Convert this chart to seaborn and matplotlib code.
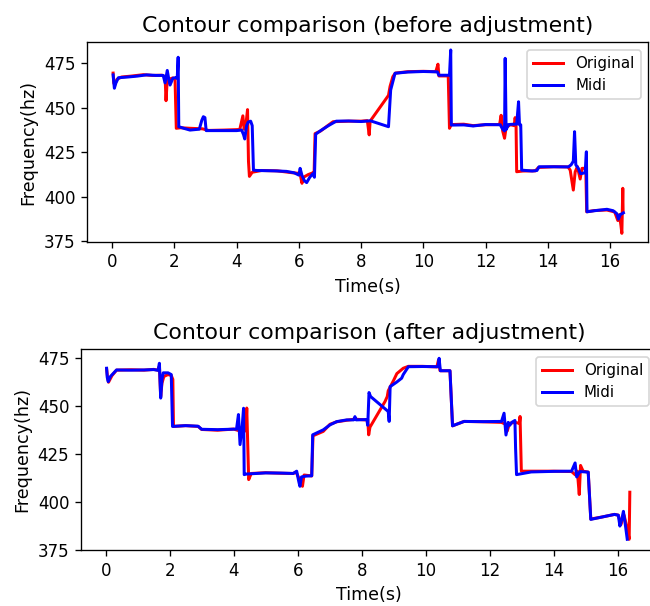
import numpy as np
import pandas as pd
import matplotlib
matplotlib.use("Agg")
import matplotlib.pyplot as plt
import seaborn as sns

# ---- data: top panel (before adjustment) ----
top_orig_t = [0.03, 0.05, 0.08, 0.15, 0.3, 0.6, 1.0, 1.3, 1.6, 1.70, 1.73, 1.76, 1.82, 1.95, 2.02, 2.06, 2.2, 2.5, 2.9, 3.1,
              3.6, 4.1, 4.2, 4.24, 4.3, 4.35, 4.38, 4.41, 4.5, 4.8, 5.3, 5.8, 6.0, 6.05, 6.1, 6.15, 6.3, 6.45, 6.49, 6.52,
              6.7, 6.95, 7.1, 7.6, 8.0, 8.2, 8.26, 8.29, 8.88, 8.93, 9.02, 9.1, 9.5, 10.0, 10.4, 10.47, 10.5, 10.8, 10.84, 10.9,
              11.3, 11.6, 12.0, 12.45, 12.5, 12.55, 12.61, 12.66, 12.8, 12.92, 12.95, 12.98, 13.0, 13.2, 13.6, 13.7, 14.2, 14.65, 14.72, 14.82,
              14.88, 14.95, 15.04, 15.1, 15.22, 15.25, 15.5, 15.9, 16.15, 16.25, 16.3, 16.35, 16.38, 16.41, 16.42]
top_orig_f = [469.5, 464, 462.8, 466, 467.3, 467.8, 468.6, 468.2, 468.3, 467.5, 454, 463, 466, 466.8, 466, 438.5, 438.8, 438.5, 438.2, 437.3,
              437.5, 437.8, 445.5, 438, 441, 449, 420, 411.5, 413.8, 414.8, 414.6, 413.5, 413.2, 412, 407.6, 411, 412.5, 413.5, 414, 435.5,
              437, 440.3, 442.2, 442.5, 442.5, 442.8, 434.8, 442.5, 457, 462, 467.5, 469.5, 470.3, 470.5, 470.3, 474.5, 467.9, 467.9, 438.5, 440.6,
              440.8, 440, 440.5, 440.6, 445.8, 437, 432.9, 439, 440.5, 440, 444.5, 440, 414.1, 414.5, 414.6, 416.5, 416.9, 416.8, 415, 403.8,
              414, 417, 410, 416, 416, 391.6, 392.3, 392.6, 391.5, 386.7, 390, 384, 379.5, 404.8, 392]

top_midi_t = [0.03, 0.07, 0.12, 0.2, 0.5, 0.8, 1.1, 1.4, 1.64, 1.7, 1.77, 1.82, 1.86, 1.95, 2.05, 2.09, 2.12, 2.14, 2.3, 2.5,
              2.8, 2.88, 2.93, 2.98, 3.02, 3.5, 4.0, 4.16, 4.22, 4.26, 4.32, 4.37, 4.45, 4.5, 4.54, 4.65, 5.2, 5.6, 5.85, 6.0,
              6.04, 6.1, 6.18, 6.25, 6.35, 6.45, 6.5, 6.54, 6.7, 6.95, 7.2, 7.6, 8.0, 8.3, 8.88, 8.95, 9.09, 9.5, 10.0, 10.45,
              10.5, 10.84, 10.88, 10.9, 11.3, 11.6, 12.0, 12.47, 12.55, 12.61, 12.63, 12.66, 12.74, 12.9, 13.0, 13.06, 13.09, 13.13, 13.16, 13.5,
              13.65, 13.72, 14.2, 14.66, 14.75, 14.82, 14.86, 14.9, 14.98, 15.05, 15.2, 15.24, 15.26, 15.5, 15.9, 16.1, 16.22, 16.27, 16.33, 16.43]
top_midi_f = [468.5, 461, 464, 466.9, 467.3, 467.8, 468.5, 468.2, 468.2, 464, 471, 466, 462.8, 466.6, 467, 466.5, 478.4, 439.4, 438.5, 437.5,
              438, 443, 445, 444.5, 437.2, 437.2, 437.2, 437.5, 435, 432.5, 440, 442, 442.5, 440, 415, 414.8, 414.6, 414.3, 413.5, 412.2,
              416, 412, 409, 408, 411, 413, 411, 435.2, 437.2, 440, 442.5, 442.6, 442.3, 442.7, 439.4, 460, 469.4, 470.1, 470.4, 470.2,
              468.3, 468.3, 482.5, 440.3, 440.4, 439.8, 440.6, 440.5, 438, 437, 477.8, 437.8, 440.6, 440.8, 440.8, 453.4, 440.5, 440.5, 415, 414.5,
              414.8, 416.9, 416.9, 416.8, 418, 420, 436.6, 418, 416, 413, 413.5, 425.3, 391.6, 392.2, 393, 392.2, 390.5, 387.5, 390, 391]

# ---- data: bottom panel (after adjustment) ----
bot_orig_t = [0.03, 0.06, 0.09, 0.2, 0.34, 0.8, 1.2, 1.5, 1.64, 1.68, 1.72, 1.76, 1.82, 1.95, 2.05, 2.1, 2.12, 2.5, 2.89, 3.0,
              3.5, 4.0, 4.1, 4.2, 4.3, 4.38, 4.41, 4.44, 4.47, 4.55, 5.0, 5.5, 5.86, 5.95, 6.05, 6.15, 6.2, 6.44, 6.48, 6.8,
              7.01, 7.22, 7.53, 7.79, 8.1, 8.19, 8.22, 8.26, 8.73, 8.8, 8.83, 9.0, 9.1, 9.3, 9.46, 9.9, 10.35, 10.4, 10.45, 10.76,
              10.84, 11.2, 11.8, 12.37, 12.5, 12.55, 12.62, 12.8, 12.93, 12.95, 12.99, 13.3, 14.0, 14.56, 14.68, 14.74, 14.8, 14.84, 14.92, 15.08,
              15.16, 15.5, 15.9, 16.02, 16.1, 16.2, 16.3, 16.36, 16.38]
bot_orig_f = [469.5, 465, 462.5, 466, 468.8, 469, 468.8, 469.2, 468.8, 471, 455, 462, 465.5, 466.5, 466, 464, 439.4, 439.8, 439.4, 437.8,
              437.4, 438, 437.5, 437, 440, 437, 449, 430, 411.6, 414.8, 415.2, 414.9, 414.8, 415.5, 412, 408.1, 414, 413.5, 434.5, 436.8,
              440.5, 441.8, 442.6, 443.2, 442.8, 443, 435, 439, 452.4, 455, 458, 463.5, 467, 469.8, 470.8, 470.8, 470.5, 474, 468.5, 468.5,
              439.7, 442, 441.8, 441.5, 440.5, 437, 441, 441.5, 441, 444.6, 416, 416, 416, 415.8, 414, 416, 403.8, 419, 416, 415.5,
              391, 392, 393.4, 393, 388, 393, 386, 380.4, 405]

bot_midi_t = [0.03, 0.05, 0.08, 0.15, 0.34, 0.8, 1.2, 1.5, 1.64, 1.68, 1.72, 1.76, 1.80, 1.95, 2.05, 2.09, 2.5, 2.89, 3.0, 3.5,
              4.09, 4.15, 4.2, 4.27, 4.31, 4.33, 4.4, 5.0, 5.5, 5.86, 5.97, 6.03, 6.07, 6.12, 6.25, 6.44, 6.47, 6.8, 7.01, 7.22,
              7.53, 7.75, 7.79, 7.83, 8.16, 8.19, 8.23, 8.28, 8.83, 8.86, 8.89, 9.09, 9.25, 9.3, 9.46, 9.9, 10.39, 10.42, 10.46, 10.76,
              10.84, 11.2, 11.8, 12.37, 12.45, 12.51, 12.58, 12.63, 12.69, 12.79, 12.81, 12.84, 13.3, 14.0, 14.56, 14.67, 14.72, 14.82, 15.08, 15.16,
              15.5, 15.9, 16.02, 16.07, 16.13, 16.18, 16.24, 16.3]
bot_midi_f = [469.8, 465, 462.8, 465.5, 468.9, 468.8, 468.9, 469.1, 468.7, 472.4, 454.2, 464, 467.4, 467.4, 466.5, 439.4, 439.8, 439.5, 437.9, 437.7,
              438, 445.6, 429.9, 440, 448.9, 414.2, 414.5, 415.1, 415, 414.8, 416, 411, 408.1, 413, 413.4, 413.6, 435, 437.6, 440.2, 441.9,
              442.8, 442.8, 444.5, 442.8, 443, 440, 457.1, 455, 447.2, 442, 460.2, 462.5, 464.6, 466.5, 470.6, 470.7, 470.6, 475, 468.5, 468.5,
              439.7, 442, 441.9, 442, 446.3, 434.9, 441.5, 440, 441.5, 442.5, 428.1, 414.2, 415.6, 415.9, 416, 420.3, 413, 415.8, 415.5, 390.8,
              392, 393.4, 393, 387.3, 391, 395, 388, 380.4]

titles = ["Contour comparison (before adjustment)", "Contour comparison (after adjustment)"]
series_names = ["Original", "Midi"]
colors = ["red", "blue"]

W, H = 650, 606
fig = plt.figure(figsize=(W / 120, H / 120), dpi=120)

# axes positions in pixels (left, top, right, bottom)
ax1 = fig.add_axes([87.3 / W, 1 - 241.7 / H, (648.3 - 87.3) / W, (241.7 - 42.3) / H])
ax2 = fig.add_axes([81.0 / W, 1 - 550.0 / H, (656.7 - 81.0) / W, (550.0 - 349.3) / H])

panels = [
    (ax1, (top_orig_t, top_orig_f), (top_midi_t, top_midi_f), (-0.8, 17.23), (374.8, 486.8)),
    (ax2, (bot_orig_t, bot_orig_f), (bot_midi_t, bot_midi_f), (-0.77, 17.22), (374.8, 479.7)),
]

for (ax, orig, midi, xl, yl), title in zip(panels, titles):
    for (tt, ff), name, c in zip([orig, midi], series_names, colors):
        df = pd.DataFrame({"t": tt, "f": ff})
        sns.lineplot(data=df, x="t", y="f", color=c, label=name, ax=ax,
                     estimator=None, sort=False, linewidth=1.8)
    ax.set_xlim(*xl)
    ax.set_ylim(*yl)
    ax.set_xticks([0, 2, 4, 6, 8, 10, 12, 14, 16])
    ax.set_yticks([375, 400, 425, 450, 475])
    ax.set_title(title, fontsize=13.2)
    ax.set_xlabel("Time(s)", fontsize=10.5)
    ax.set_ylabel("Frequency(hz)", fontsize=10.5)
    ax.legend(loc="upper right", fontsize=9)

fig.savefig("out.png", dpi=120)
